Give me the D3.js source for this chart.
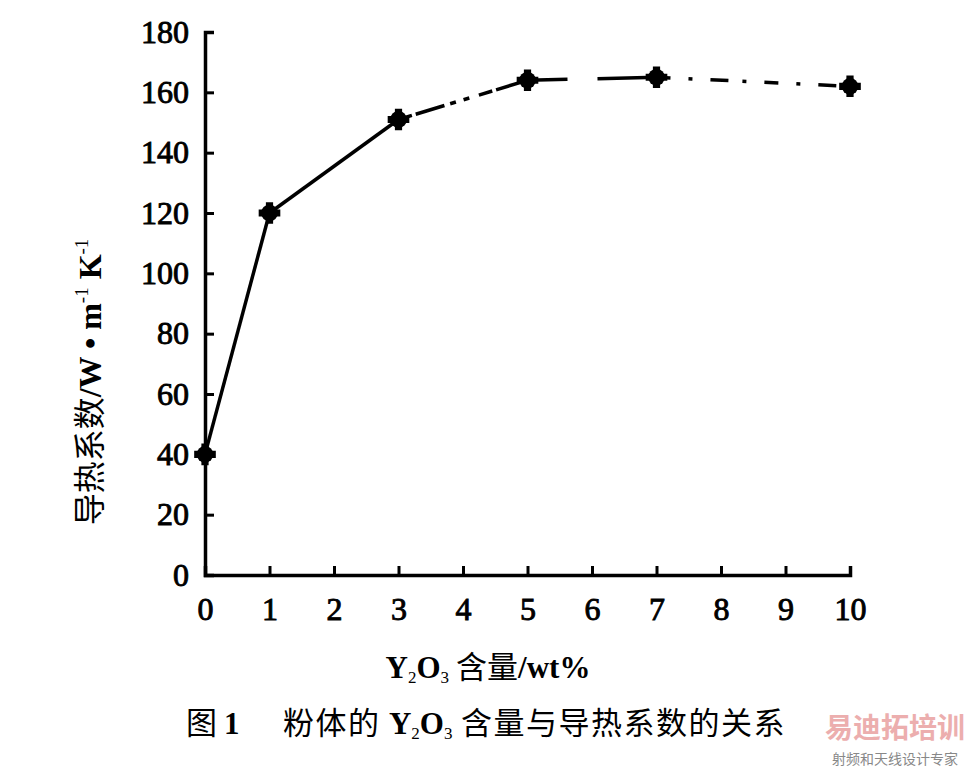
<!DOCTYPE html>
<html><head><meta charset="utf-8">
<script src="https://cdn.jsdelivr.net/npm/d3@7"></script>
<style>body{margin:0;background:#fff}svg{display:block}</style>
</head><body>
<svg id="c" width="975" height="767"></svg>
<script>
const yOxide = [0, 1, 3, 5, 7, 10];
const conductivity = [40, 120, 151, 164, 165, 162];
const xTicks = [0, 1, 2, 3, 4, 5, 6, 7, 8, 9, 10];
const yTicks = [0, 20, 40, 60, 80, 100, 120, 140, 160, 180];

const svg = d3.select("#c");
const x = d3.scaleLinear().domain([0, 10]).range([205, 850]);
const y = d3.scaleLinear().domain([0, 180]).range([575, 32]);
const serif = "'Liberation Serif','Times New Roman',serif";
const cjk = "'Noto Sans CJK SC',sans-serif";

// axes
const ax = svg.append("g").attr("transform", `translate(0,${y(0)})`)
  .call(d3.axisBottom(x).tickValues(xTicks).tickSizeInner(-9).tickSizeOuter(-9).tickPadding(22).tickFormat(d3.format("d")));
const ay = svg.append("g").attr("transform", `translate(${x(0)},0)`)
  .call(d3.axisLeft(y).tickValues(yTicks).tickSizeInner(-9).tickSizeOuter(-9).tickPadding(16).tickFormat(d3.format("d")));
[ax, ay].forEach(g => {
  g.select(".domain").attr("stroke", "#000").attr("stroke-width", 3.5);
  g.selectAll(".tick line").attr("stroke", "#000").attr("stroke-width", 3);
  g.selectAll(".tick text").attr("fill", "#000").style("font-family", serif).style("font-size", "32px")
   .attr("stroke", "#000").attr("stroke-width", 0.9);
});
ax.selectAll(".tick text").attr("dy", "0.71em");

// line segments with varying dash styles
const pts = yOxide.map((v, i) => [x(v), y(conductivity[i])]);
const dashes = [null, null, "14,4,30,6,6,8,6,10", "40,30,60,0", "14,18,4,18,18,14,4,18"];
for (let i = 0; i < pts.length - 1; i++) {
  svg.append("path")
    .attr("d", d3.line()([pts[i], pts[i + 1]]))
    .attr("fill", "none").attr("stroke", "#000").attr("stroke-width", 3.5)
    .attr("stroke-dasharray", dashes[i]);
}
// markers
svg.selectAll("path.m").data(pts).join("path").attr("class", "m")
  .attr("transform", d => `translate(${d[0]},${d[1]})`)
  .attr("d", d3.symbol().type(d3.symbolCircle).size(220))
  .attr("fill", "#000");
svg.selectAll("path.m2").data(pts).join("path").attr("class", "m2")
  .attr("transform", d => `translate(${d[0]},${d[1]})`)
  .attr("d", d3.symbol().type(d3.symbolCross).size(260))
  .attr("fill", "#000");

// y axis label
const yl = svg.append("text").attr("transform", "translate(101,382) rotate(-90)")
  .attr("text-anchor", "middle").attr("fill", "#000").style("font-size", "32px");
yl.append("tspan").style("font-family", cjk).text("导热系数");
yl.append("tspan").style("font-family", serif).style("font-weight", "bold").text("/W • m");
yl.append("tspan").style("font-family", serif).style("font-size", "19px").attr("dy", -13).text("-1");
yl.append("tspan").style("font-family", serif).style("font-weight", "bold").attr("dy", 13).text(" K");
yl.append("tspan").style("font-family", serif).style("font-size", "19px").attr("dy", -13).text("-1");

// x axis label
const xl = svg.append("text").attr("x", 488).attr("y", 678).attr("text-anchor", "middle")
  .attr("fill", "#000").style("font-size", "31px");
xl.append("tspan").style("font-family", serif).style("font-weight", "bold").text("Y");
xl.append("tspan").style("font-family", serif).style("font-size", "17px").attr("dy", 5).text("2");
xl.append("tspan").style("font-family", serif).style("font-weight", "bold").attr("dy", -5).text("O");
xl.append("tspan").style("font-family", serif).style("font-size", "17px").attr("dy", 5).text("3");
xl.append("tspan").style("font-family", cjk).attr("dy", -5).text(" 含量");
xl.append("tspan").style("font-family", serif).style("font-weight", "bold").text("/wt%");

// caption
const cap = svg.append("text").attr("x", 186).attr("y", 734).attr("fill", "#000").style("font-size", "31px");
cap.append("tspan").style("font-family", cjk).text("图 ");
cap.append("tspan").style("font-family", serif).style("font-weight", "bold").text("1");
cap.append("tspan").style("font-family", cjk).attr("x", 283).style("letter-spacing", "1.5px").text("粉体的 ");
cap.append("tspan").style("font-family", serif).style("font-weight", "bold").text("Y");
cap.append("tspan").style("font-family", serif).style("font-size", "17px").attr("dy", 5).text("2");
cap.append("tspan").style("font-family", serif).style("font-weight", "bold").attr("dy", -5).text("O");
cap.append("tspan").style("font-family", serif).style("font-size", "17px").attr("dy", 5).text("3");
cap.append("tspan").style("font-family", cjk).style("letter-spacing", "1.5px").attr("dy", -5).text(" 含量与导热系数的关系");

// watermark
svg.append("text").attr("x", 895).attr("y", 738).attr("text-anchor", "middle")
  .style("font-family", cjk).style("font-size", "28px").style("font-weight", "bold")
  .attr("fill", "#e89a9a").attr("opacity", 0.8).text("易迪拓培训");
svg.append("text").attr("x", 895).attr("y", 764).attr("text-anchor", "middle")
  .style("font-family", cjk).style("font-size", "14px").attr("fill", "#888").text("射频和天线设计专家");
</script>
</body></html>
